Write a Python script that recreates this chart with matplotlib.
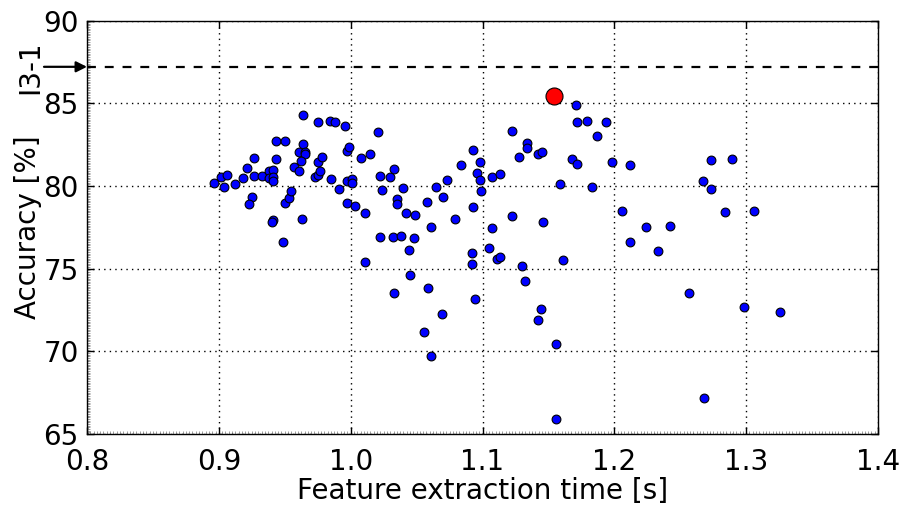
import matplotlib
matplotlib.use("Agg")
import matplotlib.pyplot as plt
from matplotlib.ticker import MultipleLocator

time_s = [
    0.896, 0.902, 0.906, 0.904, 0.912, 0.918, 0.921, 0.927, 0.927, 0.933,
    0.938, 0.941, 0.938, 0.941, 0.941, 0.943, 0.950, 0.943, 0.925, 0.923,
    0.941, 0.940, 0.950, 0.949, 0.964, 0.975, 0.984, 0.988, 0.996, 0.964,
    0.961, 0.965, 0.965, 0.962, 0.957, 0.961, 0.975, 0.978, 0.973, 0.975,
    0.977, 0.985, 0.991, 0.997, 1.003, 0.997, 0.999, 0.997, 1.001, 1.001,
    1.008, 1.015, 1.021, 0.953, 0.955, 0.963, 1.011, 1.022, 1.030, 1.033,
    1.024, 1.040, 1.035, 1.035, 1.042, 1.049, 1.058, 1.065, 1.070, 1.073,
    1.061, 1.079, 1.084, 1.093, 1.098, 1.096, 1.098, 1.099, 1.093, 1.022,
    1.032, 1.038, 1.048, 1.044, 1.011, 1.092, 1.092, 1.171, 1.172, 1.179,
    1.194, 1.187, 1.122, 1.134, 1.134, 1.142, 1.145, 1.128, 1.168, 1.172,
    1.198, 1.212, 1.107, 1.113, 1.159, 1.183, 1.122, 1.146, 1.107, 1.206,
    1.224, 1.242, 1.212, 1.233, 1.105, 1.111, 1.113, 1.130, 1.161, 1.273,
    1.289, 1.267, 1.273, 1.284, 1.306, 1.045, 1.059, 1.033, 1.094, 1.069,
    1.056, 1.061, 1.132, 1.144, 1.142, 1.156, 1.156, 1.257, 1.298, 1.326,
    1.268,
]
accuracy = [
    80.16, 80.52, 80.68, 79.92, 80.13, 80.46, 81.06, 81.69, 80.62, 80.60,
    80.92, 80.96, 80.46, 80.52, 80.28, 82.71, 82.71, 81.64, 79.35, 78.91,
    77.94, 77.80, 78.98, 76.63, 84.27, 83.85, 83.92, 83.85, 83.60, 82.55,
    82.05, 82.05, 81.91, 81.51, 81.16, 80.92, 81.45, 81.77, 80.52, 80.64,
    80.90, 80.42, 79.81, 78.98, 78.78, 82.09, 82.37, 80.30, 80.40, 80.16,
    81.71, 81.95, 83.26, 79.29, 79.67, 77.98, 78.38, 80.60, 80.52, 81.02,
    79.75, 79.89, 79.21, 78.92, 78.36, 78.22, 79.01, 79.92, 79.35, 80.36,
    77.50, 78.02, 81.28, 82.15, 81.46, 80.75, 80.37, 79.69, 78.74, 76.91,
    76.93, 76.99, 76.87, 76.12, 75.42, 75.93, 75.30, 84.91, 83.85, 83.94,
    83.86, 83.00, 83.34, 82.58, 82.31, 81.95, 82.05, 81.73, 81.64, 81.34,
    81.46, 81.26, 80.52, 80.72, 80.10, 79.95, 78.18, 77.84, 77.44, 78.46,
    77.53, 77.55, 76.63, 76.06, 76.26, 75.60, 75.72, 75.18, 75.52, 81.55,
    81.61, 80.31, 79.79, 78.40, 78.50, 74.63, 73.85, 73.52, 73.16, 72.27,
    71.17, 69.70, 74.27, 72.56, 71.91, 70.46, 65.91, 73.54, 72.68, 72.36,
    67.18,
]
best_time = [1.154]
best_accuracy = [85.45]
baseline_label = "I3-1"
baseline_accuracy = 87.2

x_ticks = [0.8, 0.9, 1.0, 1.1, 1.2, 1.3, 1.4]
y_ticks = [65, 70, 75, 80, 85, 90]

plt.rcParams['font.family'] = ['DejaVu Sans']
fig = plt.figure(figsize=(9.04, 5.08), dpi=100)
ax = fig.add_axes([87/904, 1-434/508, (878-87)/904, (434-20.5)/508])

ax.scatter(time_s, accuracy, s=40, c='#0000ff', edgecolors='black', linewidths=0.8, zorder=3)
ax.scatter(best_time, best_accuracy, s=150, c='#ff0000', edgecolors='black', linewidths=0.8, zorder=4)
ax.axhline(baseline_accuracy, color='black', linestyle=(0, (4, 4)), linewidth=1.6, zorder=2)

ax.set_xlim(0.8, 1.4)
ax.set_ylim(65, 90)
ax.set_xticks(x_ticks)
ax.set_xticklabels([f"{v:.1f}" for v in x_ticks])
ax.set_yticks(y_ticks)
ax.set_yticklabels([str(v) for v in y_ticks])
ax.xaxis.set_minor_locator(MultipleLocator(0.0025))
ax.yaxis.set_minor_locator(MultipleLocator(0.1))
ax.tick_params(which='major', direction='in', length=5, width=1, labelsize=20,
               top=True, right=True, pad=6)
ax.tick_params(axis='x', which='major', pad=10)
ax.tick_params(which='minor', direction='in', length=2.5, width=0.4, color='#555555',
               top=False, right=False)
ax.grid(True, which='major', color='black', linestyle=(0, (1, 3)), linewidth=1.0)
ax.set_axisbelow(True)
for sp in ax.spines.values():
    sp.set_linewidth(1.0)

ax.set_xlabel("Feature extraction time [s]", fontsize=20, labelpad=1)
ax.set_ylabel("Accuracy [%]", fontsize=20, labelpad=1)

ax.annotate('', xy=(0, baseline_accuracy), xycoords=('axes fraction', 'data'),
            xytext=(-43, 0), textcoords='offset pixels',
            arrowprops=dict(arrowstyle='-|>', color='black', lw=1.6,
                            mutation_scale=16, shrinkA=0, shrinkB=0),
            annotation_clip=False)
ax.annotate(baseline_label, xy=(0, baseline_accuracy), xycoords=('axes fraction', 'data'),
            xytext=(-57, 0), textcoords='offset pixels', rotation=90,
            ha='center', va='center', fontsize=20, annotation_clip=False)

fig.savefig("out.png", dpi=100)
